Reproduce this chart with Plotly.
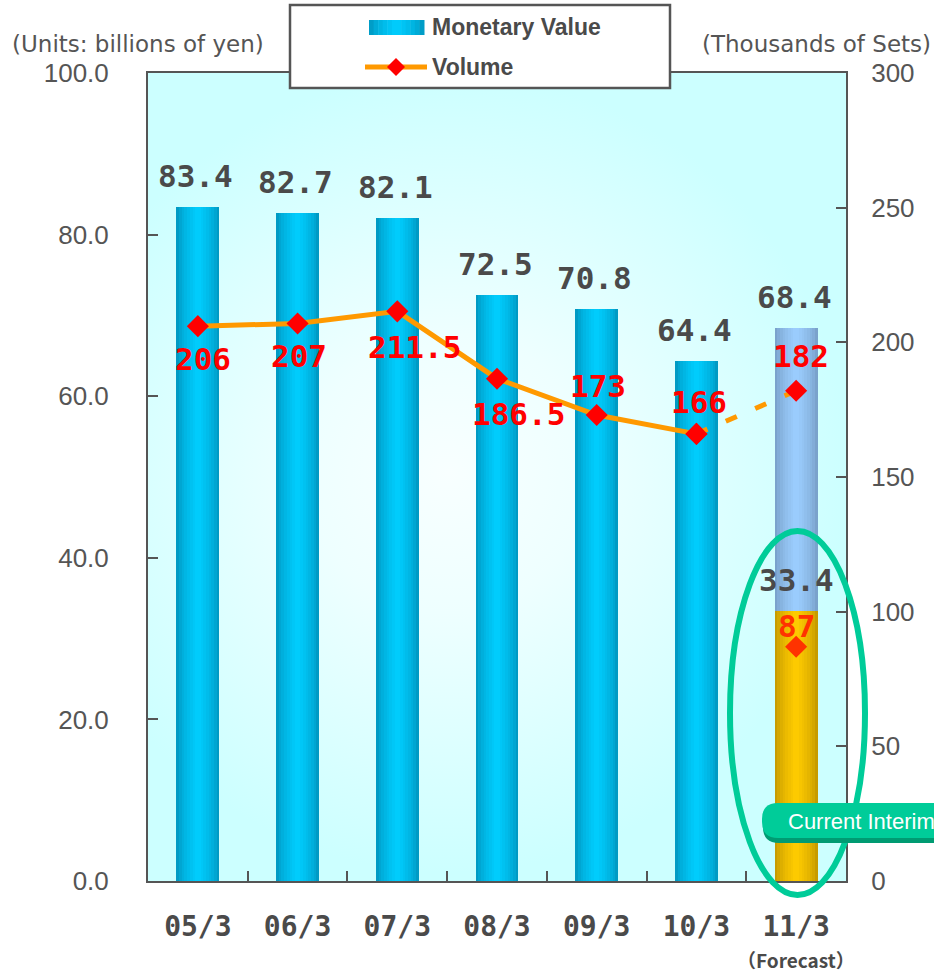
import base64
import plotly.graph_objects as go

# ---- data ---------------------------------------------------------------
periods = ["05/3", "06/3", "07/3", "08/3", "09/3", "10/3", "11/3"]
amount_actual = [83.4, 82.7, 82.1, 72.5, 70.8, 64.4]   # billions of yen
amount_forecast = 68.4                                  # 11/3 forecast
amount_interim = 33.4                                   # 11/3 current interim
volume_actual = [206, 207, 211.5, 186.5, 173, 166]      # thousands of sets
volume_forecast = 182
volume_interim = 87

actual_periods = periods[:6]
forecast_period = periods[6]

# ---- geometry of the plotting area (pixels) -----------------------------
W, H = 934, 975
L, R, T, B = 148, 88, 73, 94
PW, PH = W - L - R, H - T - B


def px2x(px):
    return (px - L) / PW


def py2y(py):
    return (H - B - py) / PH


def blend(edge, center, t):
    """Cylinder-like shading: dark at the edges, bright in the middle."""
    s = 1 - abs(2 * t - 1)
    w = s ** 0.55
    c = [round(e + (m - e) * w) for e, m in zip(edge, center)]
    return "rgb(%d,%d,%d)" % tuple(c)


BLUE = ((0, 140, 180), (0, 206, 255))
SKY = ((112, 150, 190), (156, 206, 255))
GOLD = ((184, 142, 0), (255, 204, 0))

BAR_W = 0.43
N_STRIPS = 16

fig = go.Figure()


def add_shaded_bars(xs, ys, palette):
    sw = BAR_W / N_STRIPS
    for i in range(N_STRIPS):
        t = (i + 0.5) / N_STRIPS
        fig.add_trace(go.Bar(
            x=xs, y=ys, width=sw * 1.02, offset=-BAR_W / 2 + i * sw,
            marker=dict(color=blend(palette[0], palette[1], t), line=dict(width=0)),
            hoverinfo="skip", showlegend=False,
        ))


add_shaded_bars(actual_periods, amount_actual, BLUE)
add_shaded_bars([forecast_period], [amount_forecast], SKY)
add_shaded_bars([forecast_period], [amount_interim], GOLD)

# ---- volume line ----------------------------------------------------------
fig.add_trace(go.Scatter(
    x=actual_periods, y=volume_actual, yaxis="y2", mode="lines+markers",
    line=dict(color="#FF9900", width=5),
    marker=dict(symbol="diamond", size=17, color="#FF0000"),
    hoverinfo="skip", showlegend=False,
))
fig.add_trace(go.Scatter(
    x=[actual_periods[-1], forecast_period], y=[volume_actual[-1], volume_forecast],
    yaxis="y2", mode="lines",
    line=dict(color="#FF9900", width=5, dash="12px,20px"),
    hoverinfo="skip", showlegend=False,
))
fig.add_trace(go.Scatter(
    x=[actual_periods[-1], forecast_period], y=[volume_actual[-1], volume_forecast],
    yaxis="y2", mode="markers",
    marker=dict(symbol="diamond", size=17, color="#FF0000"),
    hoverinfo="skip", showlegend=False,
))
fig.add_trace(go.Scatter(
    x=[forecast_period], y=[volume_interim], yaxis="y2", mode="markers",
    marker=dict(symbol="diamond", size=17, color="#FF3300"),
    hoverinfo="skip", showlegend=False,
))

annotations = []

# value labels above the bars
GRAY = "#4a4a4a"
label_font = dict(family="DejaVu Sans Mono", size=31, color=GRAY, weight="bold")
for p, v in zip(periods, amount_actual + [amount_forecast]):
    annotations.append(dict(x=p, y=v, xref="x", yref="y", text=f"{v:.1f}",
                            showarrow=False, yanchor="middle", yshift=31,
                            xshift=-2, font=label_font))
annotations.append(dict(x=forecast_period, y=amount_interim, xref="x", yref="y",
                        text=f"{amount_interim:.1f}", showarrow=False,
                        yanchor="middle", yshift=31, font=label_font))

# volume labels: (y offset, x offset) in pixels
vol_offsets = [(-33, 5), (-33, 1), (-36, 17), (-35, 21), (29, 1), (32, 3)]
red_font = dict(family="DejaVu Sans Mono", size=31, color="#FF0000", weight="bold")
for p, v, (dy, dx) in zip(actual_periods, volume_actual, vol_offsets):
    annotations.append(dict(x=p, y=v, xref="x", yref="y2", text=f"{v:g}",
                            showarrow=False, yanchor="middle", yshift=dy,
                            xshift=dx, font=red_font))
annotations.append(dict(x=forecast_period, y=volume_forecast, xref="x", yref="y2",
                        text=f"{volume_forecast:g}", showarrow=False,
                        yanchor="middle", yshift=35, xshift=5, font=red_font))
annotations.append(dict(x=forecast_period, y=volume_interim, xref="x", yref="y2",
                        text=f"{volume_interim:g}", showarrow=False,
                        yanchor="middle", yshift=21,
                        font=dict(red_font, color="#FF3300")))

# axis unit captions
cap_font = dict(family="DejaVu Sans", size=23, color="#555555")
annotations.append(dict(x=px2x(10), y=py2y(44), xref="paper", yref="paper",
                        text="(Units: billions of yen)", showarrow=False,
                        xanchor="left", yanchor="middle", font=cap_font))
annotations.append(dict(x=px2x(700), y=py2y(44), xref="paper", yref="paper",
                        text="(Thousands of Sets)", showarrow=False,
                        xanchor="left", yanchor="middle", font=cap_font))

# forecast note under the last category
annotations.append(dict(x=forecast_period, y=py2y(959), xref="x", yref="paper",
                        text="（Forecast）", showarrow=False, yanchor="middle",
                        font=dict(family="Noto Sans CJK JP, DejaVu Sans", size=19,
                                  color=GRAY, weight="bold")))

# ---- legend (drawn by hand) ---------------------------------------------
shapes = []
shapes.append(dict(type="rect", xref="paper", yref="paper",
                   x0=px2x(290), x1=px2x(670), y0=py2y(88), y1=py2y(5),
                   fillcolor="white", line=dict(color="#555555", width=2.5)))
sw_x0, sw_x1 = 369, 424
n_sw = 12
for i in range(n_sw):
    t = (i + 0.5) / n_sw
    a = sw_x0 + (sw_x1 - sw_x0) * i / n_sw
    b = sw_x0 + (sw_x1 - sw_x0) * (i + 1) / n_sw + 0.5
    shapes.append(dict(type="rect", xref="paper", yref="paper",
                       x0=px2x(a), x1=px2x(b), y0=py2y(35), y1=py2y(20),
                       fillcolor=blend(BLUE[0], BLUE[1], t), line=dict(width=0)))
shapes.append(dict(type="line", xref="paper", yref="paper",
                   x0=px2x(365), x1=px2x(427), y0=py2y(67), y1=py2y(67),
                   line=dict(color="#FF9900", width=5)))
cx, cy, d = 396, 67, 9
shapes.append(dict(type="path", xref="paper", yref="paper",
                   path=(f"M{px2x(cx - d)},{py2y(cy)} L{px2x(cx)},{py2y(cy - d)} "
                         f"L{px2x(cx + d)},{py2y(cy)} L{px2x(cx)},{py2y(cy + d)} Z"),
                   fillcolor="#FF0000", line=dict(width=0)))
leg_font = dict(family="Liberation Sans, Arial", size=23, color=GRAY, weight="bold")
annotations.append(dict(x=px2x(430), y=py2y(27), xref="paper", yref="paper",
                        text="Monetary Value", showarrow=False, xanchor="left",
                        yanchor="middle", font=leg_font))
annotations.append(dict(x=px2x(430), y=py2y(67), xref="paper", yref="paper",
                        text="Volume", showarrow=False, xanchor="left",
                        yanchor="middle", font=leg_font))

# ---- highlight ring and "Current Interim" tag -----------------------------
shapes.append(dict(type="circle", xref="paper", yref="paper",
                   x0=px2x(730), x1=px2x(865), y0=py2y(895), y1=py2y(531),
                   line=dict(color="#00CC99", width=6)))


def tag_path(x0, x1, top, bot, r):
    return (f"M{px2x(x0 + r)},{py2y(top)} L{px2x(x1)},{py2y(top)} "
            f"L{px2x(x1)},{py2y(bot)} L{px2x(x0 + r)},{py2y(bot)} "
            f"Q{px2x(x0)},{py2y(bot)} {px2x(x0)},{py2y(bot - r)} "
            f"L{px2x(x0)},{py2y(top + r)} "
            f"Q{px2x(x0)},{py2y(top)} {px2x(x0 + r)},{py2y(top)} Z")


shapes.append(dict(type="path", xref="paper", yref="paper",
                   path=tag_path(763, 990, 807, 843, 16),
                   fillcolor="#009B72", line=dict(width=0)))
shapes.append(dict(type="path", xref="paper", yref="paper",
                   path=tag_path(762, 990, 803, 838, 16),
                   fillcolor="#00CC99", line=dict(width=0)))
annotations.append(dict(x=px2x(786), y=py2y(821), xref="paper", yref="paper",
                        text="Current Interim", showarrow=False, xanchor="left",
                        yanchor="middle",
                        font=dict(family="Liberation Sans, Arial", size=22,
                                  color="white")))

# ---- soft radial backdrop for the plotting area ---------------------------
svg = (f'<svg xmlns="http://www.w3.org/2000/svg" width="{PW}" height="{PH}" '
       f'viewBox="0 0 {PW} {PH}" preserveAspectRatio="none">'
       '<defs><radialGradient id="g" gradientUnits="userSpaceOnUse" '
       'cx="300" cy="400" r="400">'
       '<stop offset="0" stop-color="#F8FFFF"/>'
       '<stop offset="0.35" stop-color="#EEFFFF"/>'
       '<stop offset="1" stop-color="#CCFFFF"/></radialGradient></defs>'
       f'<rect width="{PW}" height="{PH}" fill="url(#g)"/></svg>')
bg_src = "data:image/svg+xml;base64," + base64.b64encode(svg.encode()).decode()

axis_col = "#555555"
tick_font = dict(family="Liberation Sans, Arial", size=26, color="#555555")

fig.update_layout(
    width=W, height=H,
    margin=dict(l=L, r=R, t=T, b=B, pad=0),
    paper_bgcolor="white",
    plot_bgcolor="rgba(0,0,0,0)",
    barmode="overlay",
    bargap=0,
    showlegend=False,
    images=[dict(source=bg_src, xref="paper", yref="paper", x=0, y=1,
                 sizex=1, sizey=1, xanchor="left", yanchor="top",
                 sizing="stretch", layer="below")],
    xaxis=dict(
        type="category", categoryorder="array", categoryarray=periods,
        range=[-0.5, len(periods) - 0.5], autorange=False,
        showline=True, linecolor=axis_col, linewidth=2, mirror=True,
        ticks="inside", ticklen=10, tickwidth=1.5, tickcolor=axis_col,
        tickson="boundaries", showgrid=False, zeroline=False,
        tickfont=dict(family="DejaVu Sans Mono", size=28, color=GRAY, weight="bold"),
        ticklabelstandoff=19,
    ),
    yaxis=dict(
        range=[0, 100], dtick=20, tickformat=".1f",
        showline=True, linecolor=axis_col, linewidth=2,
        ticks="inside", ticklen=10, tickwidth=1.5, tickcolor=axis_col,
        showgrid=False, zeroline=False, tickfont=tick_font,
        ticklabelstandoff=32,
    ),
    yaxis2=dict(
        range=[0, 300], dtick=50, overlaying="y", side="right",
        showline=True, linecolor=axis_col, linewidth=2,
        ticks="inside", ticklen=10, tickwidth=1.5, tickcolor=axis_col,
        showgrid=False, zeroline=False, tickfont=tick_font,
        ticklabelstandoff=18,
    ),
    shapes=shapes,
    annotations=annotations,
)

fig.write_html("out.html")
